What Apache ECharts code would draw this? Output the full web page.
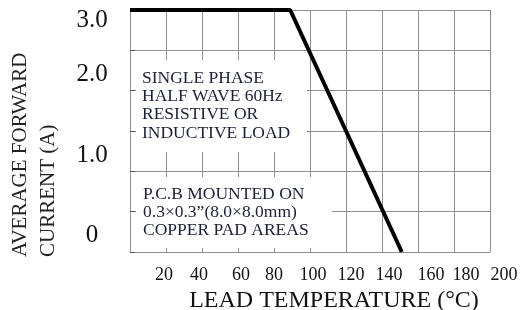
<!DOCTYPE html>
<html>
<head>
<meta charset="utf-8">
<script src="https://cdn.jsdelivr.net/npm/echarts@6/dist/echarts.min.js"></script>
<style>
  html, body { margin: 0; padding: 0; background: #fff; }
  #chart { width: 520px; height: 310px; }
</style>
</head>
<body>
<div id="chart"></div>
<script>
// derating curve: lead temperature (°C) vs average forward current (A)
const temps = [0, 89, 151];
const current = [3.0, 3.0, 0];

// y labels sit a little off their gridlines in the original
const yLabelText = ["3.0", "2.0", "1.0", "0"];
const yLabelAt = [2.87, 2.2, 1.2, 0.21];

// x labels drift to the right in the original (px)
const xTicks = [20, 40, 60, 80, 100, 120, 140, 160, 180, 200];
const xShift = [-2, -3, 3, 0, 3, 5, 7, 13, 12, 14];

const note1 = ["SINGLE PHASE", "HALF WAVE 60Hz", "RESISTIVE OR", "INDUCTIVE LOAD"];
const note2 = ["P.C.B MOUNTED ON", "0.3\u00d70.3\u201d(8.0\u00d78.0mm)", "COPPER PAD AREAS"];

const serif = "Liberation Serif";
const gridColor = "#8f8f8f";

const xRich = {};
xTicks.forEach((t, i) => {
  const s = xShift[i];
  xRich["t" + i] = {
    fontFamily: serif, fontSize: 18, color: "#111",
    padding: s >= 0 ? [0, 0, 0, 2 * s] : [0, -2 * s, 0, 0]
  };
});

const chart = echarts.init(document.getElementById("chart"));

chart.setOption({
  animation: false,
  grid: { left: 130, right: 30, top: 10, bottom: 58, outerBoundsMode: "none" },
  xAxis: {
    type: "value",
    min: 0,
    max: 200,
    interval: 20,
    name: "LEAD TEMPERATURE (\u00b0C)",
    nameLocation: "middle",
    nameGap: 30,
    nameTextStyle: {
      fontFamily: serif, fontSize: 24, color: "#111",
      padding: [0, 0, 0, 48]
    },
    axisLine: { lineStyle: { color: gridColor, width: 1 } },
    axisTick: { show: false },
    axisLabel: {
      fontFamily: serif, fontSize: 18, color: "#111", margin: 14,
      showMinLabel: false,
      hideOverlap: false,
      rich: xRich,
      formatter: v => {
        const i = xTicks.indexOf(v);
        return i >= 0 ? "{t" + i + "|" + v + "}" : "";
      }
    },
    splitLine: { show: true, lineStyle: { color: gridColor, width: 1 } }
  },
  yAxis: {
    type: "value",
    min: 0,
    max: 3,
    interval: 0.5,
    axisLine: { show: true, lineStyle: { color: gridColor, width: 1 } },
    axisTick: { show: true, inside: true, length: 5, lineStyle: { color: "#555" } },
    axisLabel: {
      customValues: yLabelAt,
      fontFamily: serif, fontSize: 25, color: "#111",
      align: "center", margin: 38,
      formatter: v => {
        const i = yLabelAt.findIndex(a => Math.abs(a - v) < 1e-6);
        return i >= 0 ? yLabelText[i] : "";
      }
    },
    splitLine: { show: true, lineStyle: { color: gridColor, width: 1 } }
  },
  graphic: [
    {
      type: "text",
      x: 34, y: 257,
      rotation: Math.PI / 2,
      style: {
        text: "AVERAGE FORWARD\nCURRENT (A)",
        font: "21px " + serif,
        fill: "#222",
        align: "left",
        verticalAlign: "middle",
        lineHeight: 28
      }
    },
    {
      type: "rect", z: 5,
      shape: { x: 136, y: 60, width: 171, height: 92 },
      style: { fill: "#fff" }
    },
    {
      type: "text", z: 6,
      x: 142, y: 69,
      style: {
        text: note1.join("\n"),
        font: "17.5px " + serif,
        fill: "#1b2036",
        lineHeight: 18.3,
        verticalAlign: "top"
      }
    },
    {
      type: "rect", z: 5,
      shape: { x: 136, y: 177, width: 196, height: 71 },
      style: { fill: "#fff" }
    },
    {
      type: "text", z: 6,
      x: 143, y: 185,
      style: {
        text: note2.join("\n"),
        font: "17.5px " + serif,
        fill: "#1b2036",
        lineHeight: 18,
        verticalAlign: "top"
      }
    }
  ],
  series: [
    {
      type: "line",
      z: 10,
      data: temps.map((t, i) => [t, current[i]]),
      symbol: "none",
      clip: false,
      lineStyle: { color: "#000", width: 4 }
    }
  ]
});

window.addEventListener("resize", () => {
  chart.resize();
});
</script>
</body>
</html>
